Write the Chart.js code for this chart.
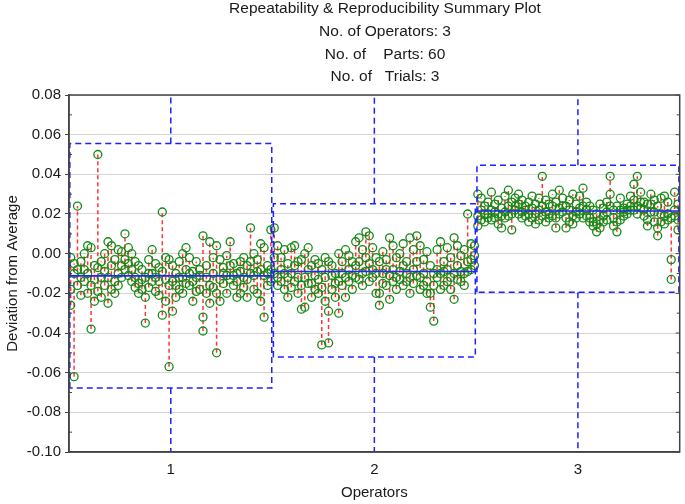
<!DOCTYPE html>
<html>
<head>
<meta charset="utf-8">
<script src="https://cdn.jsdelivr.net/npm/chart.js@4.4.1/dist/chart.umd.min.js"></script>
<style>
  html, body { margin: 0; padding: 0; background: #fff; }
  #chart { display: block; }
</style>
</head>
<body>
<canvas id="chart" width="685" height="504"></canvas>
<script>
// --- DATA ---
const operators = [1, 2, 3];
const partsPerOperator = 60;
const titleLines = [
    'Repeatability & Reproducibility Summary Plot',
    'No. of Operators: 3',
    'No. of    Parts: 60',
    'No. of   Trials: 3'
];
const yTicksMin = -0.10;
const yTicksMax = 0.08;
const yStep = 0.02;

// deviation from average, one value per part, per trial
const op1Trial1 = [-0.002, -0.005, 0.024, -0.004, -0.008, 0.004, 0.003, -0.006, 0.050, -0.004,
    0.000, 0.006, 0.004, -0.003, 0.002, 0.001, 0.010, 0.003, 0.000, -0.004,
    -0.006, -0.008, -0.012, -0.003, 0.002, -0.005, -0.007, 0.021, -0.002, -0.003,
    -0.006, -0.010, -0.004, 0.000, 0.003, -0.002, -0.009, -0.004, -0.008, 0.009,
    -0.006, 0.006, -0.002, 0.004, -0.003, -0.007, -0.001, 0.006, -0.005, -0.010,
    -0.004, -0.002, -0.006, 0.013, 0.000, -0.003, 0.005, 0.003, -0.006, 0.012];
const op1Trial2 = [-0.026, -0.062, -0.016, -0.021, -0.014, -0.020, -0.038, -0.024, -0.007, -0.022,
    -0.016, -0.025, -0.018, -0.014, -0.010, -0.006, -0.003, -0.005, -0.008, -0.012,
    -0.015, -0.013, -0.035, -0.017, -0.010, -0.019, -0.014, -0.031, -0.024, -0.057,
    -0.029, -0.022, -0.018, -0.012, -0.008, -0.016, -0.024, -0.012, -0.018, -0.039,
    -0.020, -0.016, -0.010, -0.050, -0.013, -0.015, -0.011, -0.006, -0.016, -0.022,
    -0.020, -0.012, -0.022, -0.004, -0.018, -0.009, -0.008, -0.032, -0.016, -0.008];
const op1Trial3 = [-0.018, -0.010, -0.008, -0.012, 0.000, -0.010, -0.016, -0.013, -0.019, -0.012,
    -0.009, -0.012, -0.006, -0.020, -0.016, -0.012, -0.008, -0.011, -0.014, -0.017,
    -0.020, -0.018, -0.022, -0.010, -0.014, -0.012, -0.021, -0.009, -0.013, -0.016,
    -0.014, -0.016, -0.012, -0.020, -0.015, -0.010, -0.014, -0.019, -0.011, -0.032,
    -0.012, -0.025, -0.017, -0.020, -0.024, -0.010, -0.020, -0.013, -0.011, -0.014,
    -0.009, -0.017, -0.013, -0.010, -0.011, -0.020, -0.024, -0.011, -0.010, -0.014];

const op2Trial1 = [0.013, 0.004, -0.002, 0.002, -0.005, 0.003, 0.004, -0.004, -0.003, 0.000,
    0.003, -0.006, -0.003, -0.005, -0.008, -0.002, -0.004, -0.006, -0.010, 0.000,
    -0.004, 0.002, -0.001, -0.004, 0.006, 0.008, 0.002, 0.011, 0.009, 0.003,
    -0.002, -0.004, 0.001, -0.003, 0.008, 0.004, -0.002, 0.000, 0.005, -0.004,
    0.008, 0.002, 0.009, 0.004, -0.003, 0.001, -0.006, -0.010, 0.002, 0.006,
    -0.004, 0.003, -0.002, 0.008, 0.004, -0.001, 0.002, 0.020, 0.005, 0.004];
const op2Trial2 = [-0.010, -0.012, -0.014, -0.018, -0.022, -0.010, -0.006, -0.012, -0.028, -0.027,
    -0.008, -0.015, -0.011, -0.020, -0.046, -0.024, -0.045, -0.018, -0.022, -0.030,
    -0.016, -0.022, -0.014, -0.018, -0.006, -0.004, -0.010, -0.002, -0.005, -0.012,
    -0.020, -0.026, -0.010, -0.016, -0.023, -0.008, -0.012, -0.009, -0.006, -0.014,
    -0.020, -0.008, -0.004, -0.012, -0.016, -0.014, -0.027, -0.034, -0.012, -0.010,
    -0.016, -0.008, -0.012, -0.023, -0.006, -0.014, -0.010, -0.009, -0.003, -0.001];
const op2Trial3 = [-0.002, -0.016, -0.008, -0.010, -0.012, -0.017, -0.014, -0.020, -0.016, -0.012,
    -0.015, -0.022, -0.018, -0.013, -0.017, -0.012, -0.029, -0.011, -0.015, -0.014,
    -0.010, -0.012, -0.008, -0.011, -0.012, -0.013, -0.016, -0.009, -0.014, -0.008,
    -0.010, -0.020, -0.015, -0.008, -0.011, -0.014, -0.018, -0.013, -0.016, -0.010,
    -0.012, -0.015, -0.011, -0.018, -0.010, -0.020, -0.020, -0.016, -0.008, -0.018,
    -0.009, -0.014, -0.018, -0.010, -0.013, -0.009, -0.016, -0.004, -0.008, -0.006];

const op3Trial1 = [0.030, 0.028, 0.024, 0.026, 0.031, 0.025, 0.027, 0.023, 0.029, 0.032,
    0.026, 0.028, 0.030, 0.027, 0.024, 0.026, 0.029, 0.025, 0.028, 0.039,
    0.027, 0.025, 0.030, 0.026, 0.032, 0.028, 0.024, 0.027, 0.030, 0.025,
    0.029, 0.033, 0.026, 0.024, 0.022, 0.020, 0.025, 0.023, 0.026, 0.039,
    0.022, 0.024, 0.028, 0.023, 0.025, 0.029, 0.035, 0.039, 0.031, 0.026,
    0.025, 0.030, 0.027, 0.024, 0.028, 0.029, 0.026, 0.018, 0.031, 0.025];
const op3Trial2 = [0.019, 0.022, 0.016, 0.020, 0.022, 0.018, 0.015, 0.019, 0.021, 0.024,
    0.012, 0.022, 0.025, 0.021, 0.019, 0.020, 0.023, 0.020, 0.022, 0.024,
    0.021, 0.018, 0.024, 0.013, 0.023, 0.021, 0.018, 0.022, 0.019, 0.021,
    0.020, 0.024, 0.022, 0.018, 0.016, 0.011, 0.017, 0.019, 0.021, 0.030,
    0.018, 0.011, 0.022, 0.019, 0.020, 0.024, 0.027, 0.024, 0.026, 0.022,
    0.017, 0.025, 0.021, 0.013, 0.020, 0.019, 0.020, -0.003, 0.022, 0.017];
const op3Trial3 = [0.014, 0.017, 0.020, 0.018, 0.017, 0.021, 0.020, 0.013, 0.018, 0.019,
    0.020, 0.024, 0.020, 0.018, 0.022, 0.016, 0.018, 0.015, 0.017, 0.019,
    0.016, 0.020, 0.019, 0.018, 0.020, 0.024, 0.013, 0.016, 0.015, 0.018,
    0.023, 0.018, 0.019, 0.016, 0.014, 0.015, 0.013, 0.016, 0.017, 0.024,
    0.014, 0.016, 0.017, 0.021, 0.022, 0.022, 0.022, 0.020, 0.023, 0.019,
    0.014, 0.021, 0.016, 0.009, 0.016, 0.015, 0.017, -0.013, 0.019, 0.012];

const trialsByOperator = [
    [op1Trial1, op1Trial2, op1Trial3],
    [op2Trial1, op2Trial2, op2Trial3],
    [op3Trial1, op3Trial2, op3Trial3]
];

// summary lines per operator
const operatorMean = [-0.0112, -0.0090, 0.0215];
const boxHigh = [0.0556, 0.0252, 0.0446];
const boxLow = [-0.0677, -0.0521, -0.0194];
const whiskerHigh = [0.08, 0.08, 0.08];
const whiskerLow = [-0.10, -0.10, -0.10];

// --- BUILD POINT LISTS ---
const BOX_HALF = 0.496;
const GAP = x => ({ x: x, y: null });

function partX(op, i) {
    return op - 0.5 + (i + 0.5) / partsPerOperator;
}

const trialPoints = [];
const rangePoints = [];
const boxPoints = [];
const meanPoints = [];

operators.forEach((op, k) => {
    const trials = trialsByOperator[k];
    for (let i = 0; i < partsPerOperator; i++) {
        const x = partX(op, i);
        const vals = trials.map(t => t[i]);
        vals.forEach(v => trialPoints.push({ x: x, y: v }));
        rangePoints.push({ x: x, y: Math.min(...vals) }, { x: x, y: Math.max(...vals) }, GAP(x));
    }

    // dashed box plus whiskers
    boxPoints.push(
        { x: op - BOX_HALF, y: boxLow[k] },
        { x: op - BOX_HALF, y: boxHigh[k] },
        { x: op + BOX_HALF, y: boxHigh[k] },
        { x: op + BOX_HALF, y: boxLow[k] },
        { x: op - BOX_HALF, y: boxLow[k] },
        GAP(op),
        { x: op, y: boxHigh[k] },
        { x: op, y: whiskerHigh[k] },
        GAP(op),
        { x: op, y: boxLow[k] },
        { x: op, y: whiskerLow[k] },
        GAP(op)
    );

    meanPoints.push({ x: op - 0.5, y: operatorMean[k] }, { x: op + 0.5, y: operatorMean[k] }, GAP(op));
});

// --- PLUGINS ---
const FONT_FAMILY = '"Liberation Sans", Arial, sans-serif';
const TEXT_COLOR = '#1a1a1a';
const FRAME_COLOR = '#444';

const titlePlugin = {
    id: 'titleBlock',
    afterDraw(chart) {
        const ctx = chart.ctx;
        const ys = [9, 32, 55, 77];
        ctx.save();
        ctx.fillStyle = TEXT_COLOR;
        ctx.textAlign = 'center';
        ctx.textBaseline = 'middle';
        titleLines.forEach((line, i) => {
            ctx.font = '15.5px ' + FONT_FAMILY;
            ctx.fillText(line, 385, ys[i]);
        });
        ctx.restore();
    }
};

const framePlugin = {
    id: 'frame',
    afterDraw(chart) {
        const { ctx, chartArea: a, scales } = chart;
        const y = scales.y;
        ctx.save();
        ctx.strokeStyle = FRAME_COLOR;
        ctx.lineWidth = 1.5;
        ctx.strokeRect(a.left, a.top, a.right - a.left, a.bottom - a.top);

        // minor ticks (inward): left at midpoints, right at every half step
        ctx.lineWidth = 1;
        const ticks = y.ticks.map(t => t.value);
        ctx.beginPath();
        for (let i = 0; i < ticks.length - 1; i++) {
            const mid = y.getPixelForValue((ticks[i] + ticks[i + 1]) / 2);
            ctx.moveTo(a.left, mid);
            ctx.lineTo(a.left + 3, mid);
            ctx.moveTo(a.right, mid);
            ctx.lineTo(a.right - 3, mid);
        }
        ticks.forEach(v => {
            const p = y.getPixelForValue(v);
            ctx.moveTo(a.right, p);
            ctx.lineTo(a.right - 4, p);
        });
        ctx.stroke();
        ctx.restore();
    }
};

// --- CHART ---
const ctx = document.getElementById('chart').getContext('2d');
new Chart(ctx, {
    type: 'scatter',
    data: {
        datasets: [
            {
                label: 'Mean',
                data: meanPoints,
                showLine: true,
                borderColor: '#2424ff',
                borderWidth: 1.6,
                pointRadius: 0,
                spanGaps: false,
                order: 0
            },
            {
                label: 'Box',
                data: boxPoints,
                showLine: true,
                borderColor: '#1f1fff',
                borderWidth: 1.5,
                borderDash: [6, 4],
                pointRadius: 0,
                spanGaps: false,
                order: 1
            },
            {
                label: 'Trials',
                data: trialPoints,
                showLine: false,
                pointStyle: 'circle',
                pointRadius: 4,
                pointBorderWidth: 1.3,
                pointBorderColor: '#168a16',
                pointBackgroundColor: 'rgba(0,0,0,0)',
                order: 2
            },
            {
                label: 'Range',
                data: rangePoints,
                showLine: true,
                borderColor: '#ff3434',
                borderWidth: 1.5,
                borderDash: [4, 3],
                pointRadius: 0,
                spanGaps: false,
                order: 3
            }
        ]
    },
    options: {
        responsive: false,
        animation: false,
        layout: { padding: { top: 95, right: 1, left: 0, bottom: 0 } },
        plugins: {
            legend: { display: false },
            tooltip: { enabled: false },
            title: { display: false }
        },
        scales: {
            x: {
                type: 'linear',
                min: 0.5,
                max: 3.5,
                afterBuildTicks: s => { s.ticks = operators.map(v => ({ value: v })); },
                afterFit: s => { s.height = 52; },
                ticks: {
                    color: TEXT_COLOR,
                    font: { family: FONT_FAMILY, size: 15 },
                    padding: 1,
                    callback: v => String(v)
                },
                grid: { display: false },
                border: { color: FRAME_COLOR, width: 1.5 },
                title: {
                    display: true,
                    text: 'Operators',
                    color: TEXT_COLOR,
                    font: { family: FONT_FAMILY, size: 15 },
                    padding: { top: 2, bottom: 2 }
                }
            },
            y: {
                type: 'linear',
                min: yTicksMin,
                max: yTicksMax,
                afterFit: s => { s.width = 69; },
                ticks: {
                    stepSize: yStep,
                    color: TEXT_COLOR,
                    font: { family: FONT_FAMILY, size: 15 },
                    padding: 4,
                    callback: v => (Math.abs(v) < 1e-9 ? '0.00' : v.toFixed(2))
                },
                grid: {
                    color: '#d4d4d4',
                    lineWidth: 1,
                    tickLength: 4,
                    tickColor: FRAME_COLOR
                },
                border: { color: FRAME_COLOR, width: 1.5 },
                title: {
                    display: true,
                    text: 'Deviation from Average',
                    color: TEXT_COLOR,
                    font: { family: FONT_FAMILY, size: 15 },
                    padding: { top: 4, bottom: 4 }
                }
            }
        }
    },
    plugins: [titlePlugin, framePlugin]
});
</script>
</body>
</html>
